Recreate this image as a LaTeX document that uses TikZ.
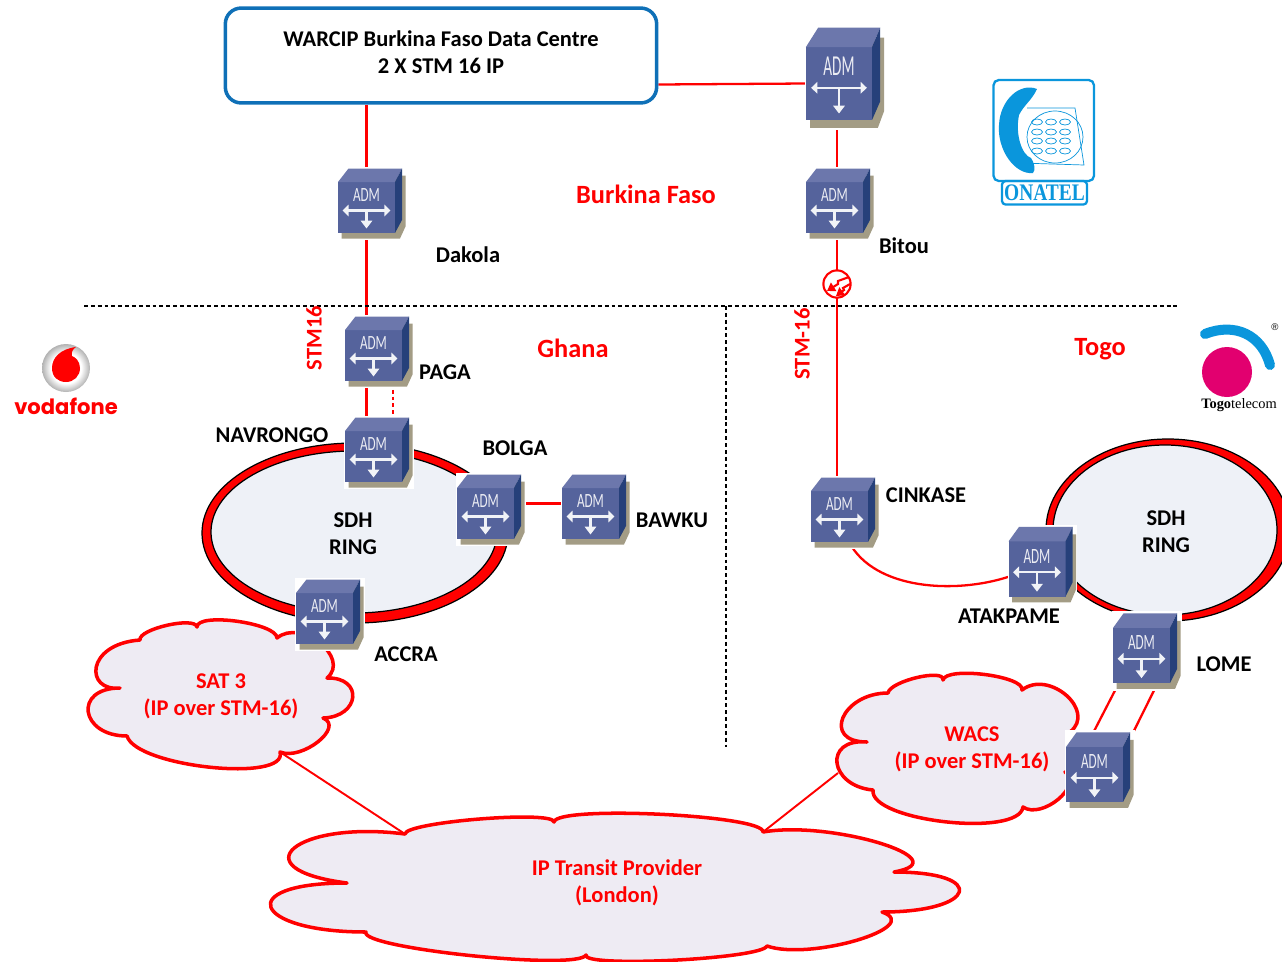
\documentclass[tikz,border=0pt]{standalone}
\usepackage{fontspec}
\setmainfont{Carlito}
\newfontfamily\logoserif{Liberation Serif}
\newfontfamily\logoround{Poppins}
\newfontfamily\logosans{Liberation Sans}
\usetikzlibrary{arrows.meta,calc,backgrounds}
\definecolor{admfront}{HTML}{55639C}
\definecolor{admtop}{HTML}{6C77AC}
\definecolor{admside}{HTML}{26407A}
\definecolor{admshadow}{HTML}{A39C85}
\definecolor{ringfill}{HTML}{EEF1F7}
\definecolor{cloudfill}{HTML}{EEEBF3}
\definecolor{boxblue}{HTML}{0F70B7}
\definecolor{onatelblue}{HTML}{0A96DC}
\definecolor{togopink}{HTML}{E2006F}
\pgfdeclareradialshading{vodaball}{\pgfpointorigin}{color(0bp)=(white);color(16bp)=(white);color(25bp)=(black!30);color(50bp)=(black!30)}
\tikzset{
	lbl/.style={font=\bfseries\fontsize{12.8}{15.4}\selectfont,align=center,inner sep=0pt},
	redlbl/.style={lbl,text=red},
	titlelbl/.style={font=\bfseries\fontsize{15}{17}\selectfont,text=red,inner sep=0pt},
	link/.style={red,line width=1.3pt},
	border/.style={black,line width=1.4pt,dash pattern=on 2.2pt off 1.7pt},
	cloudline/.style={red,line width=2pt,fill=cloudfill,line join=round},
	admcore/.style={transform shape,inner sep=0pt,minimum width=32.4pt,minimum height=29pt},
	admlabel/.style={transform shape,xscale=.65,inner sep=0pt,text=white!88!admfront,font=\fontsize{11.5}{12}\selectfont},
	admarrow/.style={white!92!admfront,line width=1.3pt,{Triangle[width=6.5pt,length=3.5pt]}-{Triangle[width=6.5pt,length=3.5pt]}},
	admstem/.style={white!92!admfront,line width=1.3pt,-{Triangle[width=6.5pt,length=4.5pt]}},
	admbox/.pic={
			\fill[white] (-29.5,-41) rectangle (40,32.5);
			\fill[admshadow] (-25,25) -- (-25,31) -- (33.5,31) -- (39,19) -- (39,-32) -- (33,-32) -- cycle;
			\fill[admfront] (-28.5,-25.5) rectangle (28.5,25.5);
			\fill[admtop] (-28.5,-25.5) -- (-18,-39) -- (35.5,-39) -- (28.5,-25.5) -- cycle;
			\fill[admside] (28.5,-25.5) -- (35.5,-39) -- (35.5,12.5) -- (28.5,25.5) -- cycle;
			\node[admcore] (-n) at (0,0) {};
			\node[admlabel] (-l) at (0,-12) {ADM};
			\draw[admarrow] (-24,3) -- (24,3);
			\draw[admstem] (0,3) -- (0,21);
		}
}

\begin{document}
\begin{tikzpicture}[x=0.02cm,y=-0.02cm]
	\clip[use as bounding box] (0,0) rectangle (1282,961);

	% country borders
	\coordinate (hleft) at (84,306);
	\coordinate (hright) at (1178,306);
	\coordinate (vtop) at (726,306);
	\coordinate (vbottom) at (726,747);
	\draw[border] (hleft) -- (hright);
	\draw[border] (vtop) -- (vbottom);

	% data centre
	\node[draw=boxblue,line width=2pt,rounded corners=9pt,fill=white,minimum width=245.5pt,minimum height=54pt] (dc) at (441,55.5) {};
	\node[lbl] (dclbl) at (441,52.5) {WARCIP Burkina Faso Data Centre\\2 X STM 16 IP};

	% sdh rings
	\draw[black,fill=red,line width=.7pt] (355,533) ellipse (153 and 90);
	\draw[black,fill=ringfill,line width=.7pt] (354,532) ellipse (143 and 81);
	\draw[black,fill=red,line width=.7pt] (1168,530) ellipse (122 and 91);
	\draw[black,fill=ringfill,line width=.7pt] (1165,530) ellipse (112 and 85);
	\node[lbl] (ringa) at (353,534) {SDH\\RING};
	\node[lbl] (ringb) at (1166,532) {SDH\\RING};

	% sat 3 cloud
	\coordinate (sattail) at (280,752);
	\draw[cloudline] (140,640) .. controls (138,629) and (195,616) .. (197,627)
		.. controls (197,612) and (277,623) .. (277,638)
		.. controls (301,618) and (351,658) .. (327,678)
		.. controls (364,677) and (360,717) .. (323,718)
		.. controls (345,727) and (302,761) .. (sattail)
		.. controls (289,783) and (136,767) .. (127,736)
		.. controls (80,736) and (73,688) .. (120,688)
		.. controls (85,692) and (85,644) .. (140,640) -- cycle;
	\node[redlbl] (sat) at (221,696) {SAT 3\\(IP over STM-16)};

	% wacs cloud
	\coordinate (wacstail) at (838,773);
	\draw[cloudline] (888,693) .. controls (890,681) and (945,668) .. (943,680)
		.. controls (946,666) and (1025,676) .. (1022,690)
		.. controls (1049,669) and (1097,711) .. (1070,732)
		.. controls (1100,732) and (1095,772) .. (1065,772)
		.. controls (1084,785) and (1042,820) .. (1023,807)
		.. controls (1019,838) and (869,821) .. (873,790)
		.. controls (829,786) and (823,738) .. (867,742)
		.. controls (821,742) and (842,693) .. (888,693) -- cycle;
	\node[redlbl] (wacs) at (972,749) {WACS\\(IP over STM-16)};

	% transit cloud
	\coordinate (ipleft) at (405,834);
	\coordinate (ipright) at (763,832);
	\draw[cloudline] (ipleft) .. controls (405,822) and (554,810) .. (554,822)
		.. controls (556,805) and (765,815) .. (ipright)
		.. controls (831,820) and (962,860) .. (894,872)
		.. controls (989,872) and (977,912) .. (882,912)
		.. controls (925,927) and (810,961) .. (767,946)
		.. controls (762,959) and (581,968) .. (586,955)
		.. controls (578,971) and (358,948) .. (366,932)
		.. controls (252,932) and (233,883) .. (347,883)
		.. controls (238,869) and (296,820) .. (ipleft) -- cycle;
	\node[redlbl] (ip) at (617,883) {IP Transit Provider\\(London)};

	% adm boxes
	\pic[xscale=1.16,yscale=1.43] (bitoutop) at (839,83.5) {admbox};
	\pic (bitou) at (834.5,207.5) {admbox};
	\pic (dakola) at (366.5,207.5) {admbox};
	\pic (paga) at (373.5,355.5) {admbox};
	\pic (navrongo) at (373.5,456.5) {admbox};
	\pic (bolga) at (485.5,513.5) {admbox};
	\pic (bawku) at (590.5,513.5) {admbox};
	\pic (accra) at (324.5,618.5) {admbox};
	\pic (cinkase) at (839.5,516.5) {admbox};
	\pic[yscale=1.08] (atakpame) at (1037,569) {admbox};
	\pic[yscale=1.08] (lome) at (1141.5,655.5) {admbox};
	\pic[yscale=1.08] (wacsadm) at (1094.5,774.5) {admbox};

	% fibre break
	\node[circle,draw=red,fill=white,line width=1.2pt,minimum size=15.5pt,inner sep=0pt] (fibre) at (837,284) {};
	\draw[red,line width=1.2pt,-{Triangle[width=5.5pt,length=4.5pt]}] ([shift={(12,-7)}]fibre.center) -- ([shift={(1,-3)}]fibre.center) -- ([shift={(1,0)}]fibre.center) -- ([shift={(-10,7)}]fibre.center);
	\draw[red,line width=1.2pt,-{Triangle[width=5.5pt,length=4.5pt]}] ([shift={(13,0)}]fibre.center) -- ([shift={(6,4)}]fibre.center) -- ([shift={(7,6)}]fibre.center) -- ([shift={(-1,12)}]fibre.center);

	% links
	\begin{scope}[on background layer]
		\draw[link] (dc.south -| dakola-n) -- (dakola-n);
		\draw[link] (dakola-n) -- (dakola-n |- paga-n);
		\draw[link] (paga-n -| dakola-n) -- (navrongo-n -| dakola-n);
		\draw[link,dash pattern=on 2.2pt off 1.7pt] ([xshift=11pt]paga-n.center) -- ([xshift=11pt]navrongo-n.center);
		\draw[link,line width=1.7pt] ([yshift=5.7pt]bolga-n.center) -- ([yshift=5.7pt]bawku-n.center);
		\draw[link] ($(dc.east)+(0,29)$) -- (bitoutop-n.west);
		\draw[link] (bitoutop-n -| fibre) -- (bitou-n -| fibre);
		\draw[link] (bitou-n -| fibre) -- (cinkase-n -| fibre);
		\draw[link] ([xshift=5.5pt]cinkase-n.south) .. controls (875,590) and (955,594) .. ([yshift=-4.5pt]atakpame-n.west);
		\draw[link] ([xshift=-13pt]lome-n.south) -- ([xshift=-4.8pt]wacsadm-n.north);
		\draw[link] ([xshift=9.1pt]lome-n.south) -- ([xshift=18pt]wacsadm-n.north);
		\draw[link,line width=1.1pt] (sattail) -- (ipleft);
		\draw[link,line width=1.1pt] (ipright) -- (wacstail);
	\end{scope}

	% place names
	\node[lbl] (dakolalbl) at (468,255) {Dakola};
	\node[lbl] (bitoulbl) at (904,246) {Bitou};
	\node[lbl] (pagalbl) at (445,372) {PAGA};
	\node[lbl] (navrongolbl) at (272,435) {NAVRONGO};
	\node[lbl] (bolgalbl) at (515,448) {BOLGA};
	\node[lbl] (bawkulbl) at (672,520) {BAWKU};
	\node[lbl] (accralbl) at (406,654) {ACCRA};
	\node[lbl] (cinkaselbl) at (926,495) {CINKASE};
	\node[lbl] (atakpamelbl) at (1009,616) {ATAKPAME};
	\node[lbl] (lomelbl) at (1224,664) {LOME};
	\node[titlelbl] (burkina) at (646,194) {Burkina Faso};
	\node[titlelbl] (ghana) at (573,348) {Ghana};
	\node[titlelbl] (togo) at (1100,349) {Togo};
	\node[redlbl,rotate=90] (stmleft) at (314,338) {STM16};
	\node[redlbl,rotate=90] (stmright) at (802,344) {STM-16};

	% onatel logo
	\draw[onatelblue,line width=1.3pt,rounded corners=3pt,fill=white] (993.5,80) rectangle (1094,181);
	\draw[onatelblue,line width=1.3pt,rounded corners=2pt] (1002,181) rectangle (1087,204.5);
	\fill[onatelblue] (1037,89) .. controls (1020,82) and (1000,100) .. (999,125) .. controls (997,150) and (1015,175) .. (1033,173) .. controls (1036,170) and (1034,162) .. (1031,158) .. controls (1022,155) and (1015,135) .. (1019,115) .. controls (1024,105) and (1032,100) .. (1037,89) -- cycle;
	\draw[onatelblue,line width=.4pt] (1027,108) -- (1075,108) -- (1084,165) -- (1020,163);
	\draw[onatelblue,line width=.4pt] (1055,137) circle (28 and 26);
	\foreach \kx in {1037,1051,1065}
	\foreach \ky in {122,132,141,151}
	\draw[onatelblue,line width=.4pt] (\kx,\ky) ellipse (5.5 and 3);
	\node[inner sep=0pt,text=onatelblue,xscale=.82,font=\logoserif\bfseries\fontsize{13.5}{14}\selectfont] (onatel) at (1044.5,193) {ONATEL};

	% vodafone logo
	\shade[shading=vodaball] (66,368) circle (24);
	\fill[red] (76,347) .. controls (60,349) and (52,358) .. (52,368) .. controls (52,377) and (58,382) .. (66,382) .. controls (74,382) and (80,376) .. (80,368) .. controls (80,361) and (75,357) .. (72,356) .. controls (71,352) and (73,349) .. (76,347) -- cycle;
	\node[inner sep=0pt,text=red,font=\logoround\bfseries\fontsize{12}{13}\selectfont] (vodafone) at (66,406) {vodafone};

	% togo logo
	\draw[onatelblue,line width=5.7pt,line cap=round] (1205,334) .. controls (1235,322) and (1262,335) .. (1270,365);
	\fill[togopink] (1227,372) circle (25);
	\node[inner sep=0pt,font=\logoserif\fontsize{8.2}{9}\selectfont] (togotelecom) at (1239,405) {\textbf{Togo}telecom};
	\node[inner sep=0pt,font=\logosans\fontsize{5.5}{6}\selectfont] (reg) at (1275,327) {®};
\end{tikzpicture}
\end{document}
